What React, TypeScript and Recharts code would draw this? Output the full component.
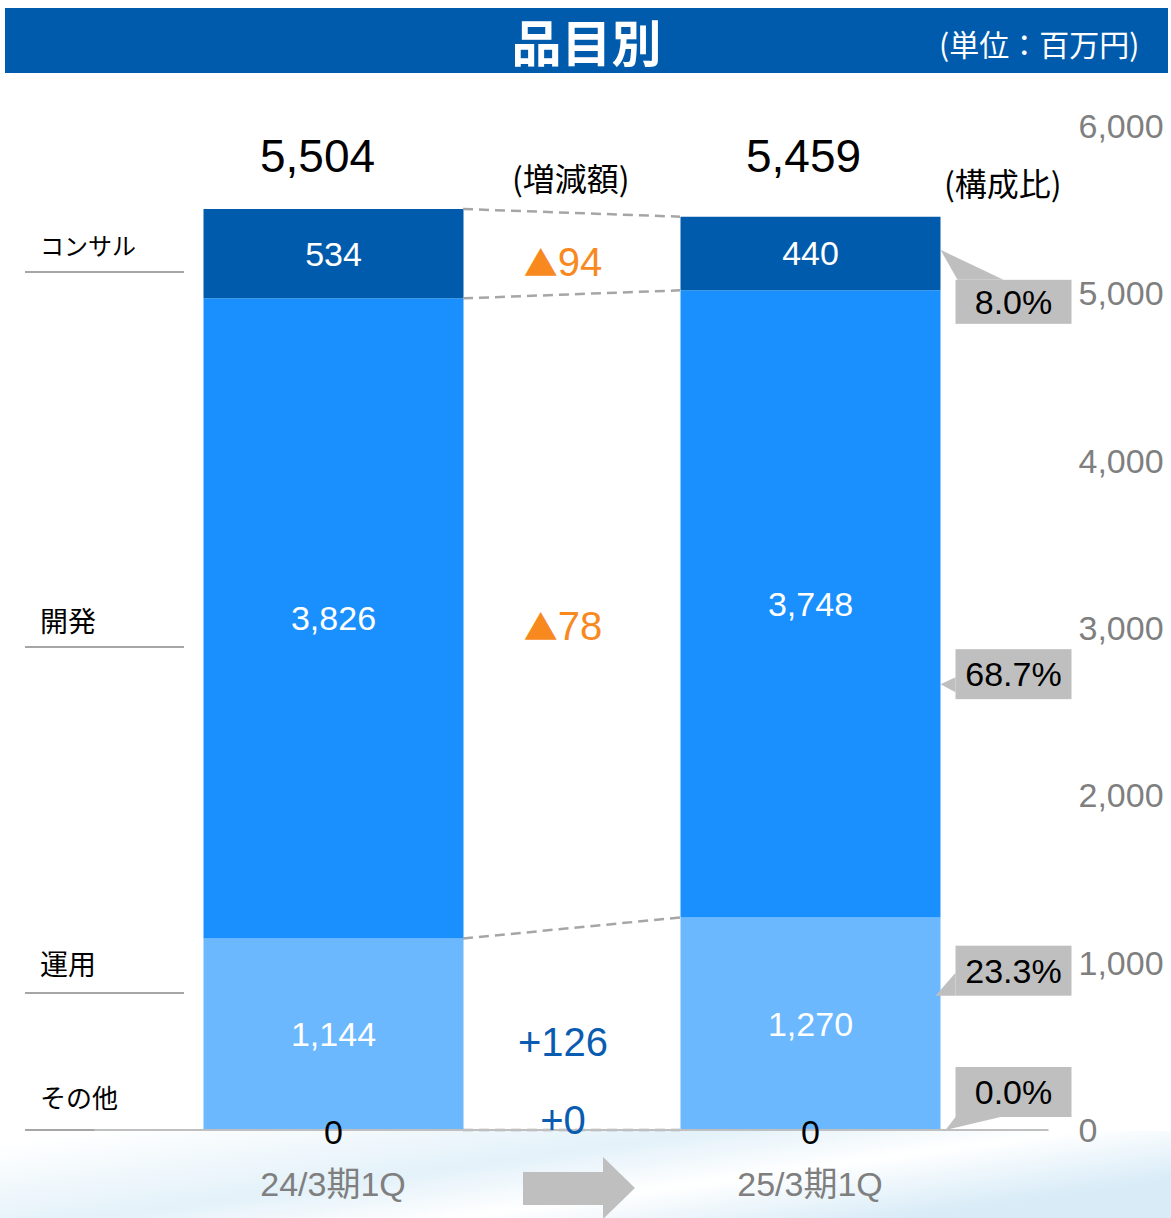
import React from 'react'
import { BarChart, Bar, XAxis, YAxis, LabelList, ReferenceLine } from 'recharts'

// values in 百万円, stack order bottom -> top
const periods = ['24/3期1Q', '25/3期1Q']
const other = [0, 0]
const operation = [1144, 1270]
const develop = [3826, 3748]
const consult = [534, 440]
const totals = [5504, 5459]
const segNames = ['その他', '運用', '開発', 'コンサル']
const diffs = [0, 126, -78, -94]
const shares = ['0.0%', '23.3%', '68.7%', '8.0%']
const yTicks = [0, 1000, 2000, 3000, 4000, 5000, 6000]

const W = 1171
const H = 1218
const BAR = 260
const BAND = 477
const GAP = BAND - BAR
const FONT = '"Liberation Sans", Arial, "Noto Sans CJK JP", sans-serif'
const JP = '"Noto Sans CJK JP", "Liberation Sans", sans-serif'

const keys = ['other', 'operation', 'develop', 'consult']
const colors = ['#6bb8ff', '#6bb8ff', '#1a90ff', '#005bac']
const values = [other, operation, develop, consult]

const data = periods.map((p, i) => ({
  period: p,
  other: other[i],
  operation: operation[i],
  develop: develop[i],
  consult: consult[i],
  total: totals[i],
}))

const cumTop = (k: number, i: number) => values.slice(0, k + 1).reduce((s, a) => s + a[i], 0)

// left side legend labels (text centre y, underline y, font size)
const leftLabels = [
  { k: 3, textY: 245, lineY: 272, size: 24 },
  { k: 2, textY: 620, lineY: 647, size: 28 },
  { k: 1, textY: 963, lineY: 993, size: 28 },
  { k: 0, textY: 1097, lineY: 1130, size: 26 },
]

// callout geometry for the 2nd bar: tip position inside the segment, box offset from tip
const callouts = [
  { tipFrac: 0, boxDy: -63, h: 50, side: 'bottom' },
  { tipFrac: 0.368, boxDy: -50, h: 50, side: 'leftLow' },
  { tipFrac: 0.628, boxDy: -35, h: 50, side: 'left' },
  { tipFrac: 0.45, boxDy: 30, h: 44, side: 'top' },
]
const TOTAL_Y = 156
const totalDx = [-16, -7]

const fmt = (v: number) => v.toLocaleString('en-US')

const box = (p: any) => {
  const vb = p.viewBox && p.viewBox.width != null ? p.viewBox : p
  return { x: Number(vb.x), y: Number(vb.y), w: Number(vb.width), h: Number(vb.height) }
}

function innerLabel(p: any) {
  const b = box(p)
  if (!p.value) return null
  return (
    <text x={b.x + b.w / 2} y={b.y + b.h / 2} dy="0.35em" textAnchor="middle" fill="#fff" fontSize={34} fontFamily={FONT}>
      {fmt(p.value)}
    </text>
  )
}

function totalLabel(p: any) {
  const b = box(p)
  return (
    <text x={b.x + b.w / 2 + totalDx[p.index]} y={TOTAL_Y} dy="0.35em" textAnchor="middle" fill="#000" fontSize={46} fontFamily={FONT}>
      {fmt(Number(p.value))}
    </text>
  )
}

// diff label (1st bar) or share callout (2nd bar) for series k
function sideLabel(k: number, index: number, b: { x: number; y: number; w: number; h: number }) {
  if (index === 0) {
    const d = diffs[k]
    const cx = b.x + b.w + GAP / 2 - 9
    const cy = b.h > 0 ? b.y + b.h / 2 + 8 : b.y - 10
    if (d < 0) {
      return (
        <text x={cx} y={cy} dy="0.35em" textAnchor="middle" fill="#f7891f" fontSize={40} fontFamily={FONT}>
          <tspan fontSize={34} fontFamily={JP}>▲</tspan>
          {fmt(-d)}
        </text>
      )
    }
    return (
      <text x={cx} y={cy} dy="0.35em" textAnchor="middle" fill="#0a5cb0" fontSize={40} fontFamily={FONT}>
        {'+' + fmt(d)}
      </text>
    )
  }
  const c = callouts[k]
  const right = b.x + b.w
  const tipY = b.y + b.h * c.tipFrac
  const bx = right + 15
  const bw = 116
  const by = tipY + c.boxDy
  let pts = ''
  if (c.side === 'top') pts = `${right},${tipY} ${bx + 2},${by} ${bx + 48},${by}`
  else if (c.side === 'left') pts = `${right},${tipY} ${bx},${tipY - 7} ${bx},${tipY + 8}`
  else if (c.side === 'leftLow') pts = `${right - 5},${tipY} ${bx},${tipY - 23} ${bx},${tipY}`
  else pts = `${right + 5},${tipY} ${bx},${by + c.h} ${bx + 45},${by + c.h}`
  return (
    <g>
      <polygon points={pts} fill="#bfbfbf" />
      <rect x={bx} y={by} width={bw} height={c.h} fill="#bfbfbf" />
      <text x={bx + bw / 2} y={by + c.h / 2} dy="0.35em" textAnchor="middle" fill="#000" fontSize={34} fontFamily={FONT}>
        {shares[k]}
      </text>
    </g>
  )
}

const makeSideLabels = (k: number) => (p: any) => sideLabel(k, p.index, box(p))

// zero-height その他 segment: drawn at the bottom edge of the 運用 rect
function otherLabel(p: any) {
  const b = box(p)
  const base = { x: b.x, y: b.y + b.h, w: b.w, h: 0 }
  return (
    <g>
      <text x={b.x + b.w / 2} y={base.y + 2} dy="0.35em" textAnchor="middle" fill="#000" fontSize={34} fontFamily={FONT}>
        {fmt(Number(p.value))}
      </text>
      {sideLabel(0, p.index, base)}
    </g>
  )
}

const connector = (p: any) => (
  <line
    x1={p.x1 + BAR / 2}
    y1={p.y1}
    x2={p.x2 - BAR / 2}
    y2={p.y2}
    stroke="#a6a6a6"
    strokeWidth={2.5}
    strokeDasharray="10 6"
  />
)

export default function App() {
  return (
    <div style={{ position: 'absolute', left: 0, top: 0, width: W, height: H, background: '#fff', overflow: 'hidden' }}>
      {/* soft wave background at the bottom */}
      <div
        style={{
          position: 'absolute', left: 0, top: 1131, width: W, height: H - 1131,
          background: 'linear-gradient(172deg, rgba(255,255,255,0) 5%, rgba(205,230,245,0.55) 40%, rgba(255,255,255,0.9) 60%, rgba(190,222,242,0.6) 85%)',
        }}
      />

      {/* header */}
      <div style={{ position: 'absolute', left: 5, top: 8, width: 1163, height: 65, background: '#005bac' }}>
        <div style={{ position: 'absolute', left: 0, width: 1163, top: 0, lineHeight: '65px', textAlign: 'center', color: '#fff', fontSize: 50, fontWeight: 700, fontFamily: JP }}>
          品目別
        </div>
        <div style={{ position: 'absolute', left: 934, top: 17, lineHeight: '36px', color: '#fff', fontSize: 30, fontFamily: JP }}>
          (単位：百万円)
        </div>
      </div>

      <div style={{ position: 'absolute', left: 512, top: 157, lineHeight: '40px', fontSize: 32, fontFamily: JP, color: '#000' }}>(増減額)</div>
      <div style={{ position: 'absolute', left: 944, top: 162, lineHeight: '40px', fontSize: 32, fontFamily: JP, color: '#000' }}>(構成比)</div>

      {leftLabels.map(l => (
        <React.Fragment key={l.k}>
          <div style={{ position: 'absolute', left: 40, top: l.textY - 20, lineHeight: '40px', fontSize: l.size, fontFamily: JP, color: '#000' }}>
            {segNames[l.k]}
          </div>
          <div style={{ position: 'absolute', left: 25, top: l.lineY - 1, width: 159, height: 2, background: '#a6a6a6' }} />
        </React.Fragment>
      ))}

      {/* arrow between periods */}
      <svg style={{ position: 'absolute', left: 523, top: 1157 }} width={114} height={64}>
        <polygon points="0,15 80,15 80,0 112,31 80,62 80,48 0,48" fill="#bfbfbf" />
      </svg>

      <div style={{ position: 'absolute', left: 0, top: 0 }}>
        <BarChart width={W} height={H} data={data} margin={{ top: 126, right: 22.5, left: 94.5, bottom: 0 }} barSize={BAR}>
          <XAxis
            dataKey="period"
            height={88}
            axisLine={{ stroke: '#bfbfbf', strokeWidth: 2 }}
            tickLine={false}
            tickMargin={36}
            tick={{ fill: '#7f7f7f', fontSize: 34, fontFamily: FONT }}
          />
          <YAxis
            orientation="right"
            width={100}
            domain={[0, 6000]}
            ticks={yTicks}
            axisLine={false}
            tickLine={false}
            tickMargin={24}
            tickFormatter={fmt}
            tick={{ fill: '#7f7f7f', fontSize: 34, fontFamily: FONT, textAnchor: 'start' }}
          />
          {keys.map((k, i) => (
            <Bar key={k} dataKey={k} stackId="a" fill={colors[i]} isAnimationActive={false}>
              {i > 0 && <LabelList dataKey={k} content={innerLabel} />}
              {i > 0 && <LabelList dataKey={k} content={makeSideLabels(i)} />}
              {k === 'operation' && <LabelList dataKey="other" content={otherLabel} />}
              {k === 'consult' && <LabelList dataKey="total" content={totalLabel} />}
            </Bar>
          ))}
          {keys.map((k, i) => (
            <ReferenceLine
              key={'c' + k}
              ifOverflow="visible"
              segment={[{ x: periods[0], y: cumTop(i, 0) }, { x: periods[1], y: cumTop(i, 1) }]}
              shape={connector}
            />
          ))}
        </BarChart>
      </div>
    </div>
  )
}
